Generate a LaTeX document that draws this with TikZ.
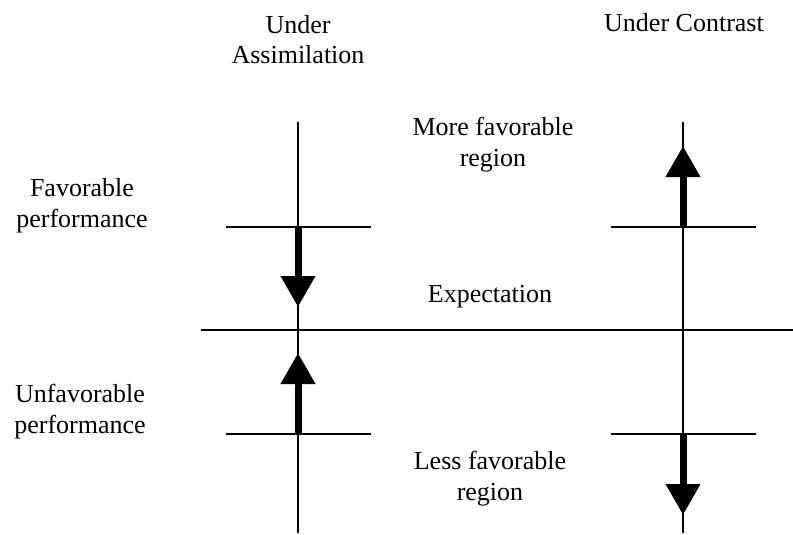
\documentclass[tikz,border=0pt]{standalone}
\usepackage{fontspec}
\setmainfont{Liberation Serif}
\usetikzlibrary{arrows.meta}
\begin{document}
\begin{tikzpicture}[x=1pt,y=-1pt,
  thinline/.style={line width=1.5pt},
  bigarrow/.style={line width=7pt,-{Triangle[width=33pt,length=31pt]}},
  lbl/.style={align=center,inner sep=0pt,anchor=base,font=\fontsize{26}{31}\selectfont}]
\useasboundingbox (0,0) rectangle (793,535);
% coordinates
\coordinate (LT) at (298,122);
\coordinate (LB) at (298,533);
\coordinate (RT) at (683,122);
\coordinate (RB) at (683,533);
\coordinate (EL) at (201,330);
\coordinate (ER) at (793,330);
\coordinate (LU1) at (226,227);
\coordinate (LU2) at (371,227);
\coordinate (RU1) at (611,227);
\coordinate (RU2) at (756,227);
\coordinate (LD1) at (226,434);
\coordinate (LD2) at (371,434);
\coordinate (RD1) at (611,434);
\coordinate (RD2) at (756,434);
\coordinate (LUmid) at (298,227);
\coordinate (LDmid) at (298,434);
\coordinate (RUmid) at (683,227);
\coordinate (RDmid) at (683,434);
\coordinate (tipA) at (298,307);
\coordinate (tipB) at (298,353);
\coordinate (tipC) at (683,146);
\coordinate (tipD) at (683,515);
% lines
\draw[thinline] (LT) -- (LB);
\draw[thinline] (RT) -- (RB);
\draw[thinline] (EL) -- (ER);
\draw[thinline] (LU1) -- (LU2);
\draw[thinline] (RU1) -- (RU2);
\draw[thinline] (LD1) -- (LD2);
\draw[thinline] (RD1) -- (RD2);
% arrows
\draw[bigarrow] (LUmid) -- (tipA);
\draw[bigarrow] (LDmid) -- (tipB);
\draw[bigarrow] (RUmid) -- (tipC);
\draw[bigarrow] (RDmid) -- (tipD);
% labels (base anchor = baseline of last line)
\node[lbl] (assim) at (298,64) {Under\\Assimilation};
\node[lbl] (contr) at (684,32) {Under Contrast};
\node[lbl] (fav) at (82,227) {Favorable\\performance};
\node[lbl] (unfav) at (80,433) {Unfavorable\\performance};
\node[lbl] (more) at (493,166) {More favorable\\region};
\node[lbl] (expect) at (490,302) {Expectation};
\node[lbl] (less) at (490,500) {Less favorable\\region};
\end{tikzpicture}
\end{document}
